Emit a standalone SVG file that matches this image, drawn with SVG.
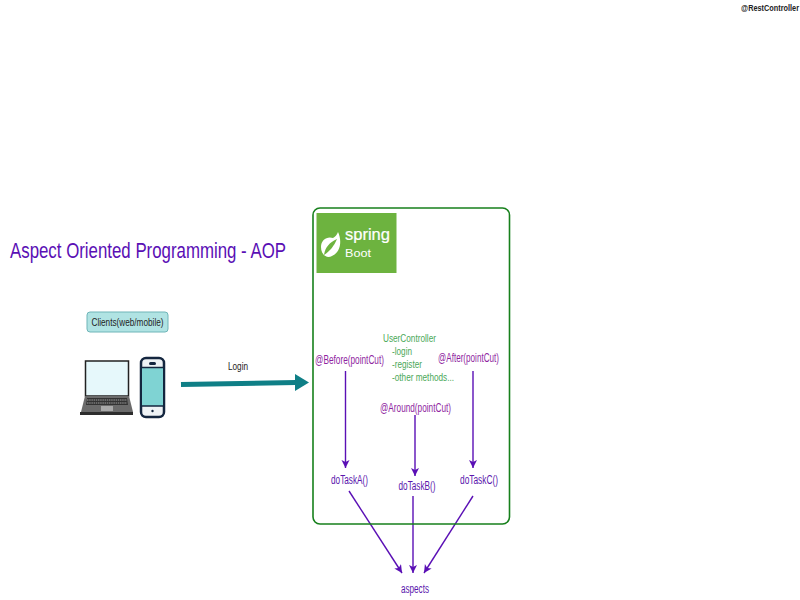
<svg xmlns="http://www.w3.org/2000/svg" width="800" height="600" viewBox="0 0 800 600">
<style>
text{font-family:"Liberation Sans",Arial,sans-serif}
.p{fill:#8f1f9f;font-size:12px}
.v{fill:#5a16ad;font-size:12px}
.g{fill:#4aa858;font-size:10.500px}
.c{fill:none;stroke:#5a0fb5;stroke-width:1.4}
</style>
<defs>
<marker id="a" markerWidth="9" markerHeight="9" refX="8" refY="4" orient="auto" markerUnits="userSpaceOnUse"><path d="M0 0L8 4L0 8L2 4Z" fill="#5a0fb5"/></marker>
</defs>
<rect width="800" height="600" fill="#fff"/>
<text id="rest" x="799" y="11" text-anchor="end" font-size="9.500" font-weight="bold" fill="#222" textLength="58" lengthAdjust="spacingAndGlyphs">@RestController</text>
<text id="title" x="10" y="258" font-size="22" fill="#5a0fb5" textLength="276" lengthAdjust="spacingAndGlyphs">Aspect Oriented Programming - AOP</text>
<g id="clients">
<rect x="87" y="312" width="81" height="20" rx="3" fill="#b0e3e3" stroke="#6fb5b8"/>
<text x="91.500" y="326" font-size="11.500" fill="#222" textLength="72" lengthAdjust="spacingAndGlyphs">Clients(web/mobile)</text>
</g>
<g id="laptop">
<rect x="85.500" y="361" width="43" height="35" fill="#e6f8fb" stroke="#222" stroke-width="1.500"/>
<path d="M85 396H129L133 412H81Z" fill="#6b6b6b"/>
<path d="M87 398H127L128 405H86Z" fill="#333"/>
<path d="M87 400H127M87 403H127" stroke="#bbb" stroke-width=".8" stroke-dasharray="1.500 .7"/>
<rect x="101" y="406" width="12" height="5" fill="#a9a9a9"/>
<rect x="80" y="412" width="53" height="3" fill="#2d2d2d"/>
</g>
<g id="phone">
<rect x="141" y="358" width="23" height="59" rx="5" fill="#eef2f5" stroke="#14263f" stroke-width="2.500"/>
<rect x="142" y="368" width="21" height="38" fill="#7fd3d3"/>
<path d="M142 367.500H163M142 406H163" stroke="#14263f" stroke-width="1.500"/>
<rect x="149" y="362" width="7" height="3" rx="1.500" fill="#14263f"/>
<circle cx="152.500" cy="411" r="1.200" fill="#14263f"/>
</g>
<g id="connectors">
<path d="M181 384.500L296 382.500" stroke="#0f7f86" stroke-width="5" fill="none"/>
<path d="M295 374L309 382.500L295 391Z" fill="#0f7f86"/>
<path class="c" d="M345.500 371V468" marker-end="url(#a)"/>
<path class="c" d="M415 415V476" marker-end="url(#a)"/>
<path class="c" d="M473 371V468" marker-end="url(#a)"/>
<path class="c" d="M349 491L402 573" marker-end="url(#a)"/>
<path class="c" d="M413 496L413 573" marker-end="url(#a)"/>
<path class="c" d="M473 496L424 573" marker-end="url(#a)"/>
</g>
<g id="container">
<rect x="313" y="208" width="196.500" height="316" rx="7" fill="none" stroke="#17801c" stroke-width="1.600"/>
</g>
<g id="spring-logo">
<rect x="316.500" y="213" width="80" height="60" fill="#6db33f"/>
<path d="M338 232C342 240 341 252 332 256C326 259 321 254 321 247C321 240 327 236 333 238C335 237 337 235 338 232Z" fill="#fff"/>
<path d="M324 255C325 247 330 242 337 239C334 246 330 251 324 255Z" fill="#6db33f"/>
<text x="345" y="240" font-size="16" fill="#fff" stroke="#fff" stroke-width=".2" textLength="45" lengthAdjust="spacingAndGlyphs">spring</text>
<text x="345" y="257" font-size="11" fill="#fff" textLength="26" lengthAdjust="spacingAndGlyphs">Boot</text>
</g>
<text id="login" x="228" y="370" font-size="11.500" fill="#222" textLength="20" lengthAdjust="spacingAndGlyphs">Login</text>
<g id="user-controller">
<text class="g" x="383" y="342" textLength="53" lengthAdjust="spacingAndGlyphs">UserController</text>
<text class="g" x="392" y="355" textLength="20" lengthAdjust="spacingAndGlyphs">-login</text>
<text class="g" x="392" y="368" textLength="30" lengthAdjust="spacingAndGlyphs">-register</text>
<text class="g" x="392" y="381" textLength="62" lengthAdjust="spacingAndGlyphs">-other methods...</text>
</g>
<text id="before" class="p" x="315" y="364" textLength="69" lengthAdjust="spacingAndGlyphs">@Before(pointCut)</text>
<text id="after" class="p" x="438" y="362" textLength="61" lengthAdjust="spacingAndGlyphs">@After(pointCut)</text>
<text id="around" class="p" x="380" y="412" textLength="71" lengthAdjust="spacingAndGlyphs">@Around(pointCut)</text>
<text id="taskA" class="v" x="331" y="484" textLength="37" lengthAdjust="spacingAndGlyphs">doTaskA()</text>
<text id="taskB" class="v" x="398.500" y="490" textLength="37" lengthAdjust="spacingAndGlyphs">doTaskB()</text>
<text id="taskC" class="v" x="460" y="484" textLength="38" lengthAdjust="spacingAndGlyphs">doTaskC()</text>
<text id="aspects" class="v" x="401" y="593" textLength="28" lengthAdjust="spacingAndGlyphs">aspects</text>
</svg>
